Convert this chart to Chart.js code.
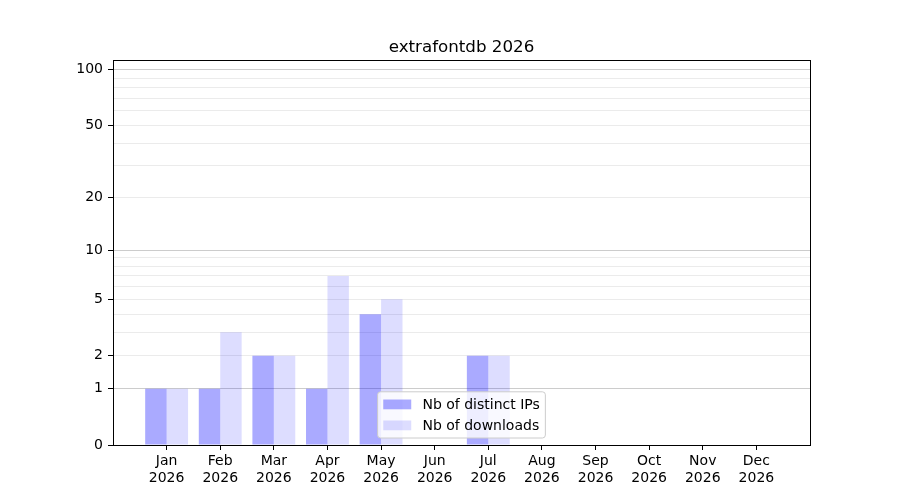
<!DOCTYPE html>
<html>
<head>
<meta charset="utf-8">
<script src="https://cdn.jsdelivr.net/npm/chart.js@4/dist/chart.umd.min.js"></script>
<style>
  html, body { margin: 0; padding: 0; background: #fff; }
</style>
</head>
<body>
<canvas id="myBarChart" width="900" height="500"></canvas>
<script>
var chartTitle = 'extrafontdb 2026';
var monthLabels = ['Jan', 'Feb', 'Mar', 'Apr', 'May', 'Jun', 'Jul', 'Aug', 'Sep', 'Oct', 'Nov', 'Dec'];
var yearLabel = '2026';
var distinctIPs = [1, 1, 2, 1, 4, 0, 2, 0, 0, 0, 0, 0];
var downloads = [1, 3, 2, 7, 5, 0, 2, 0, 0, 0, 0, 0];
var yTickLabels = [0, 1, 2, 5, 10, 20, 50, 100];
var yMajorGrid = [1, 10, 100];
var yMinorGrid = [2, 3, 4, 5, 6, 7, 8, 9, 20, 30, 40, 50, 60, 70, 80, 90];
var yMax = 113;

// y axis: log(1 + x), so 0 can sit on the axis
class Log1pScale extends Chart.LinearScale {
    getPixelForValue(value) {
        var lo = Math.log10(1 + this.min);
        var hi = Math.log10(1 + this.max);
        return this.getPixelForDecimal((Math.log10(1 + value) - lo) / (hi - lo));
    }
    getValueForPixel(pixel) {
        var lo = Math.log10(1 + this.min);
        var hi = Math.log10(1 + this.max);
        return Math.pow(10, lo + this.getDecimalForPixel(pixel) * (hi - lo)) - 1;
    }
}
Log1pScale.id = 'log1p';
Log1pScale.defaults = Chart.LinearScale.defaults;
Chart.register(Log1pScale);

// title centred over the plot area, plus the box round it
var frame = {
    id: 'frame',
    afterDraw(chart) {
        var a = chart.chartArea, ctx = chart.ctx;
        ctx.save();
        ctx.strokeStyle = '#000';
        ctx.lineWidth = 1;
        ctx.strokeRect(Math.round(a.left) + 0.5, Math.round(a.top) + 0.5,
            Math.round(a.right - a.left), Math.round(a.bottom - a.top));
        ctx.font = '16.7px "DejaVu Sans"';
        ctx.fillStyle = '#000';
        ctx.textAlign = 'center';
        ctx.textBaseline = 'alphabetic';
        ctx.fillText(chartTitle, (a.left + a.right) / 2, a.top - 8);
        ctx.restore();
    }
};

var boxLegend = {
    id: 'boxLegend',
    afterDatasetsDraw(chart) {
        var a = chart.chartArea, ctx = chart.ctx;
        var fs = 14, pad = 5.6, handle = 28, gap = 11.2, rowH = 14, spacing = 7;
        var sets = chart.data.datasets;
        ctx.save();
        ctx.font = fs + 'px "DejaVu Sans"';
        var tw = 0;
        sets.forEach(function (d) { tw = Math.max(tw, ctx.measureText(d.label).width); });
        var w = pad + handle + gap + tw + pad;
        var h = pad * 2 + rowH * sets.length + spacing * (sets.length - 1);
        var x = (a.left + a.right) / 2 - w / 2;
        var y = a.bottom - 7 - h;
        ctx.beginPath();
        ctx.roundRect(x, y, w, h, 3);
        ctx.fillStyle = 'rgba(255,255,255,0.8)';
        ctx.fill();
        ctx.strokeStyle = '#cccccc';
        ctx.lineWidth = 1;
        ctx.stroke();
        sets.forEach(function (d, i) {
            var cy = y + pad + rowH / 2 + i * (rowH + spacing);
            ctx.fillStyle = d.backgroundColor;
            ctx.fillRect(x + pad, cy - 4.9, handle, 9.8);
            ctx.fillStyle = '#000';
            ctx.textBaseline = 'middle';
            ctx.textAlign = 'left';
            ctx.fillText(d.label, x + pad + handle + gap, cy + 1);
        });
        ctx.restore();
    }
};

Chart.defaults.font.family = '"DejaVu Sans", sans-serif';
Chart.defaults.font.size = 14;
Chart.defaults.color = '#000';

var config_bar = {
    type: 'bar',
    data: {
        datasets: [{
            label: 'Nb of distinct IPs',
            data: distinctIPs.map(function (v, i) { return { x: i, y: v }; }),
            backgroundColor: 'rgba(0, 0, 255, 0.333)',
            borderWidth: 0
        }, {
            label: 'Nb of downloads',
            data: downloads.map(function (v, i) { return { x: i, y: v }; }),
            backgroundColor: 'rgba(0, 0, 255, 0.133)',
            borderWidth: 0
        }]
    },
    options: {
        responsive: false,
        animation: false,
        devicePixelRatio: 1,
        categoryPercentage: 0.8,
        barPercentage: 1.0,
        layout: { padding: { top: 60, right: 90, bottom: 0, left: 0 } },
        plugins: {
            legend: { display: false },
            tooltip: { enabled: false },
            title: { display: false }
        },
        scales: {
            x: {
                type: 'linear',
                offset: false,
                min: -1,
                max: 12,
                afterBuildTicks: function (scale) {
                    scale.ticks = monthLabels.map(function (m, i) { return { value: i }; });
                },
                afterFit: function (scale) { scale.height = 55; },
                ticks: {
                    autoSkip: false,
                    maxRotation: 0,
                    padding: 3,
                    callback: function (value) { return [monthLabels[value], yearLabel]; }
                },
                grid: {
                    offset: false,
                    drawOnChartArea: false,
                    drawTicks: true,
                    tickLength: 5,
                    tickColor: '#000'
                },
                border: { display: true, color: '#000' }
            },
            y: {
                type: 'log1p',
                min: 0,
                max: yMax,
                afterBuildTicks: function (scale) {
                    var vals = [0].concat(yMajorGrid, yMinorGrid).sort(function (p, q) { return p - q; });
                    scale.ticks = vals.filter(function (v, i) { return vals.indexOf(v) === i; })
                        .map(function (v) { return { value: v }; });
                },
                afterFit: function (scale) { scale.width = 113; },
                ticks: {
                    autoSkip: false,
                    padding: 5,
                    callback: function (value) { return yTickLabels.indexOf(value) >= 0 ? String(value) : ''; }
                },
                grid: {
                    drawTicks: true,
                    tickLength: 5,
                    color: function (c) {
                        var v = c.tick ? c.tick.value : 0;
                        if (v === 0) return 'rgba(0,0,0,0)';
                        return yMajorGrid.indexOf(v) >= 0 ? '#cccccc' : '#ebebeb';
                    },
                    tickColor: function (c) {
                        var v = c.tick ? c.tick.value : -1;
                        return yTickLabels.indexOf(v) >= 0 ? '#000' : 'rgba(0,0,0,0)';
                    }
                },
                border: { display: true, color: '#000' }
            }
        }
    },
    plugins: [boxLegend, frame]
};

var myChart = new Chart(document.getElementById('myBarChart'), config_bar);
</script>
</body>
</html>
